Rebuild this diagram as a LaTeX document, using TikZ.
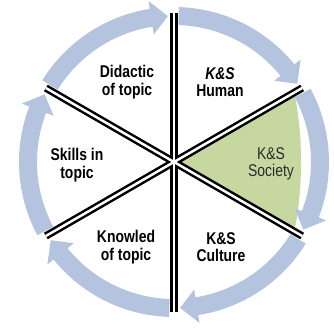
\documentclass[tikz,border=0pt]{standalone}
\usepackage{fontspec}
\setmainfont{Liberation Sans}
\newfontfamily\narrowfont[FakeStretch=0.82]{Liberation Sans}
\definecolor{ringblue}{HTML}{B4C4DE}
\definecolor{sectgreen}{HTML}{C6D8A0}
\definecolor{softblack}{HTML}{2A2A2A}
\tikzset{
  ringarrow/.style={fill=ringblue},
  divblack/.style={draw=black, line width=7.5pt},
  divwhite/.style={draw=white, line width=2.5pt},
  lbl/.style={font=\narrowfont\bfseries\fontsize{17}{17.5}\selectfont, align=center, text=black, inner sep=0pt},
  lblreg/.style={font=\narrowfont\fontsize{17}{17.5}\selectfont, align=center, text=softblack, inner sep=0pt}
}
\begin{document}
\begin{tikzpicture}[x=1pt,y=1pt]
\useasboundingbox (0,0) rectangle (334,329);
\coordinate (c) at (174,167);
\begin{scope}[shift={(c)}]
  % green sector
  \fill[sectgreen] (0,0) -- (29:138pt) .. controls (12:132pt) and (-12:132pt) .. (-29:138pt) -- cycle;
  % ring arrows (clockwise)
  \foreach \A in {150,90,30,-30,-90,-150}{
    \pgfmathsetmacro{\s}{\A-1.8}
    \pgfmathsetmacro{\b}{\A-51}
    \pgfmathsetmacro{\t}{\A-57.6}
    \fill[ringarrow] (\s:155pt) arc[start angle=\s, end angle=\b, radius=155pt]
      -- (\b:163pt) -- (\t:146pt) -- (\b:129pt) -- (\b:137pt)
      arc[start angle=\b, end angle=\s, radius=137pt] -- cycle;
  }
  % dividers
  \coordinate (d90) at (90:149pt);  \coordinate (d270) at (270:150pt);
  \coordinate (d30) at (30:148pt);  \coordinate (d210) at (210:148pt);
  \coordinate (d150) at (150:148pt); \coordinate (d330) at (330:148pt);
  \draw[divblack] (d90) -- (d270);
  \draw[divblack] (d30) -- (d210);
  \draw[divblack] (d150) -- (d330);
  \draw[divwhite] (d90) -- (d270);
  \draw[divwhite] (d30) -- (d210);
  \draw[divwhite] (d150) -- (d330);
\end{scope}
\node[lbl] (didactic) at (127,247) {Didactic\\of topic};
\node[lbl] (human) at (220,247) {\itshape K\&S\\Human};
\node[lblreg] (society) at (271,165) {K\&S\\Society};
\node[lbl] (skills) at (77,164) {Skills in\\topic};
\node[lbl] (knowled) at (126,82) {Knowled\\of topic};
\node[lbl] (culture) at (221,82) {K\&S\\Culture};
\end{tikzpicture}
\end{document}
